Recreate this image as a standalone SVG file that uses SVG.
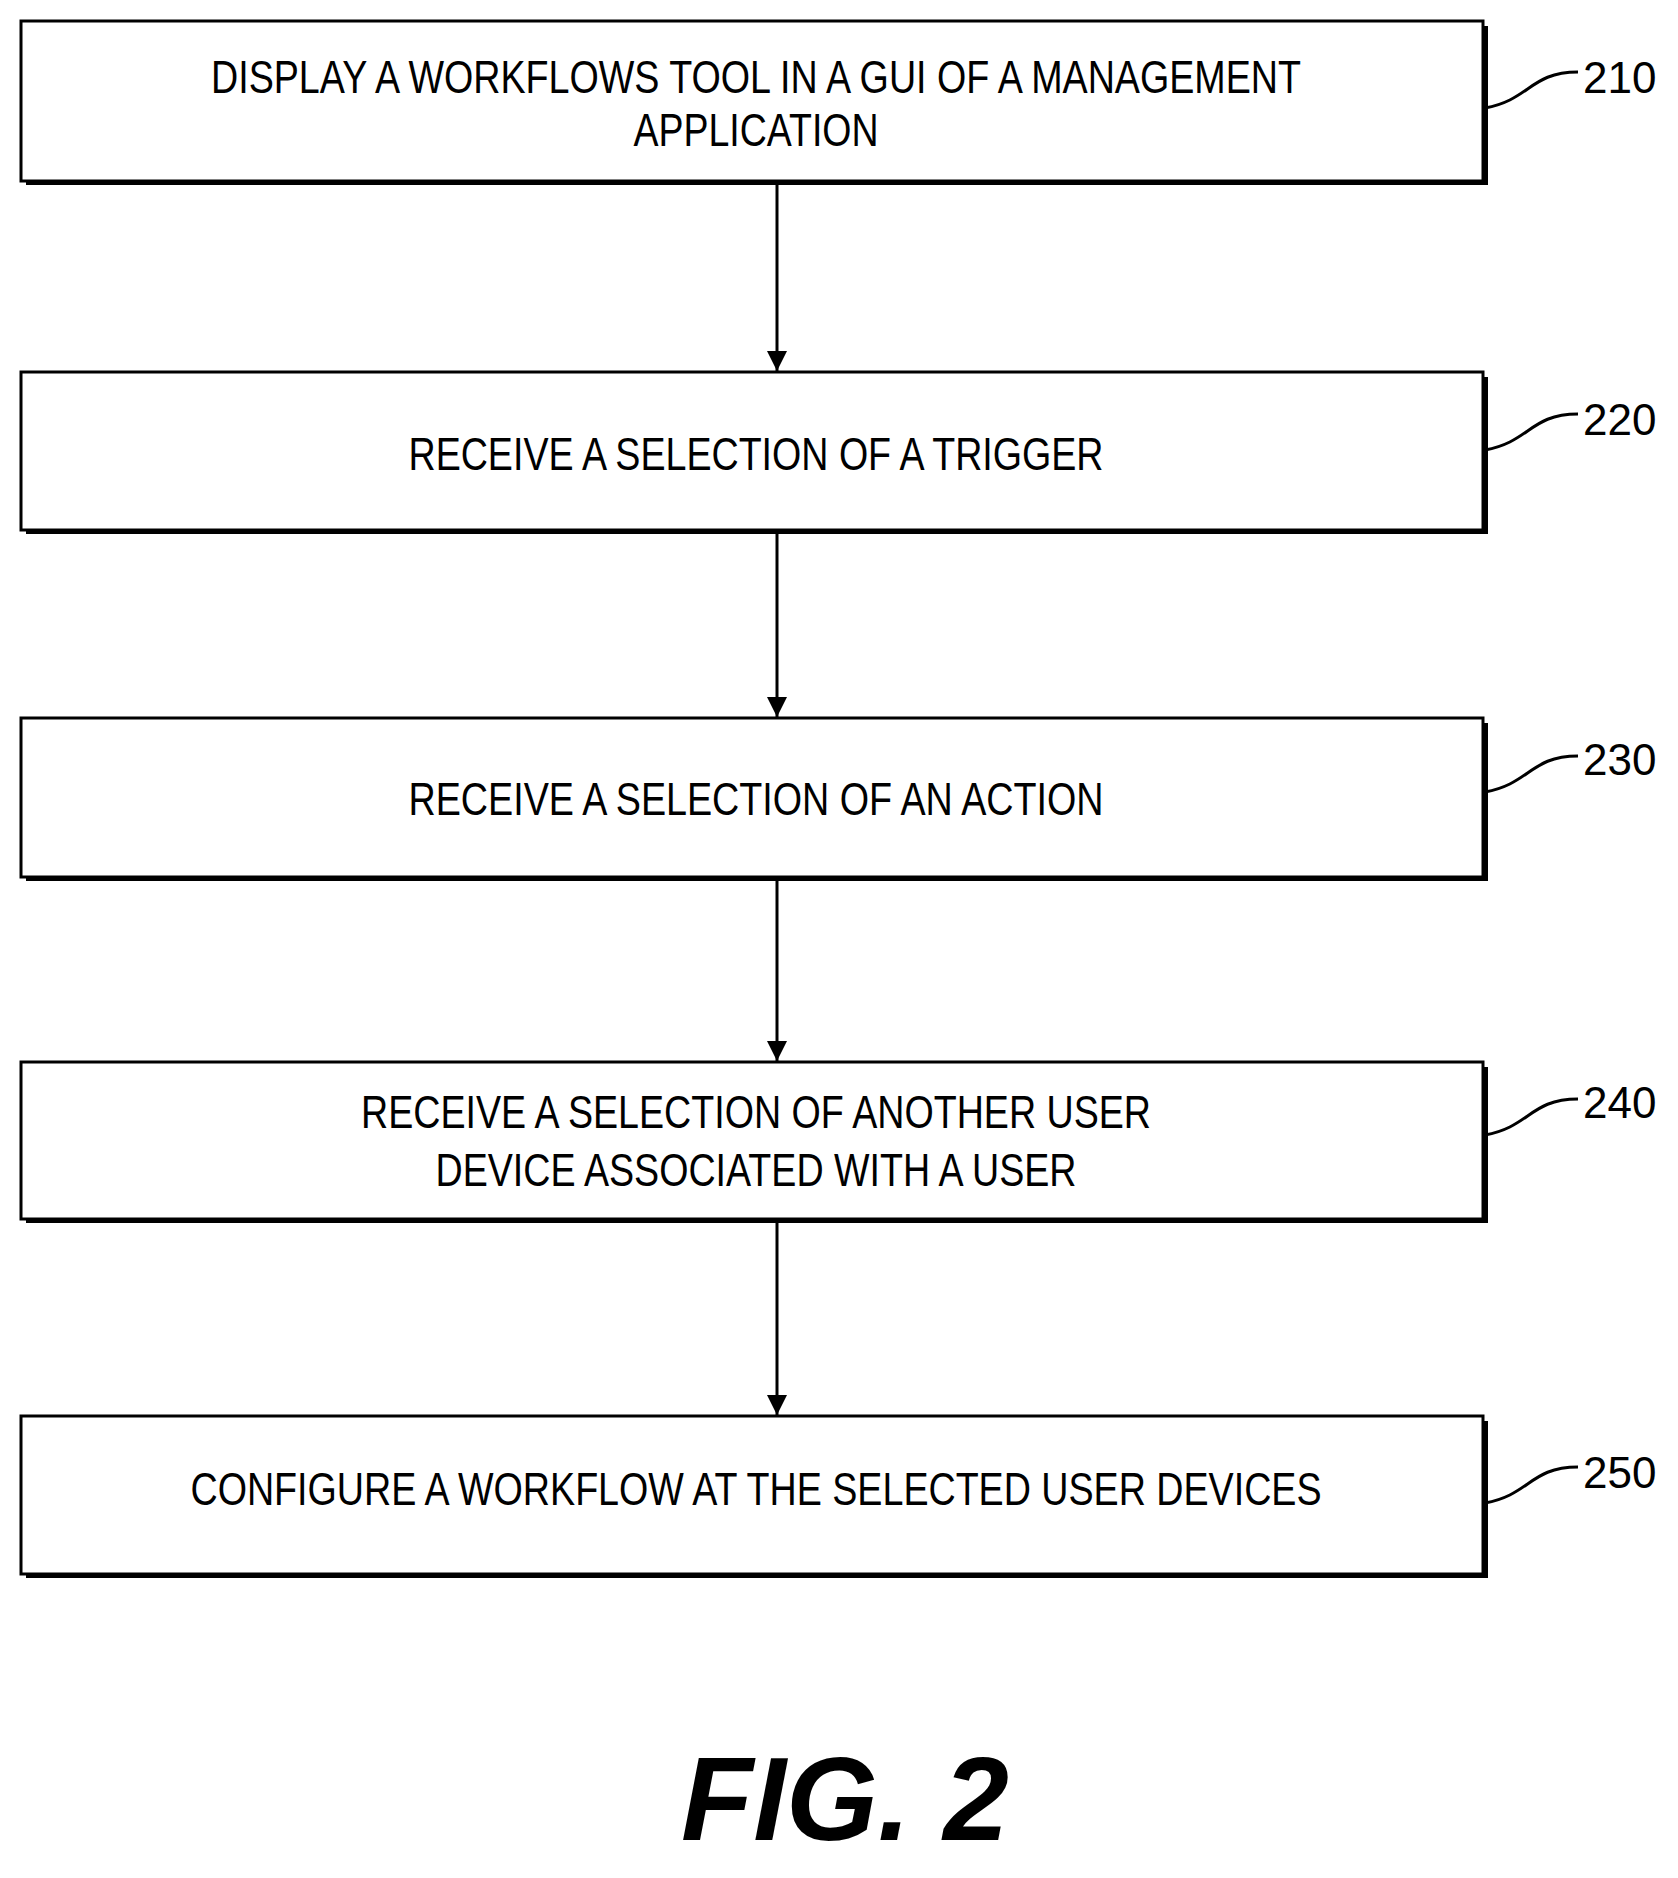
<svg xmlns="http://www.w3.org/2000/svg" width="1678" height="1878" viewBox="0 0 1678 1878">
<style>
.box{fill:#fff;stroke:#000;stroke-width:3}
.sh{fill:none;stroke:#000;stroke-width:4}
.t{font-family:"Liberation Sans",Arial,sans-serif;font-size:46px;text-anchor:middle;fill:#000}
.n{font-family:"Liberation Sans",Arial,sans-serif;font-size:44px;fill:#000}
.ld{fill:none;stroke:#000;stroke-width:3}
.c{stroke:#000;stroke-width:3;fill:none}
</style>
<defs><marker id="a" markerWidth="10" markerHeight="10" refX="9" refY="5" orient="auto" markerUnits="userSpaceOnUse" viewBox="0 0 10 10"><path d="M0,0 L10,5 L0,10 z" fill="#000"/></marker></defs>
<defs><marker id="ah" viewBox="0 0 20 20" refX="20" refY="10" markerWidth="20" markerHeight="20" orient="auto" markerUnits="userSpaceOnUse"><path d="M0,0 L20,10 L0,20 z" fill="#000"/></marker></defs>
<g id="n210"><path class="sh" d="M26,183 H1486 V26"/><rect class="box" x="21" y="21" width="1462" height="160"/>
<text class="t" x="756" y="93" textLength="1090" lengthAdjust="spacingAndGlyphs">DISPLAY A WORKFLOWS TOOL IN A GUI OF A MANAGEMENT</text>
<text class="t" x="756" y="146" textLength="245" lengthAdjust="spacingAndGlyphs">APPLICATION</text>
<path class="ld" d="M1485,108 C1530,100 1530,72 1578,72"/><text class="n" x="1583" y="93">210</text></g>
<g id="n220"><path class="sh" d="M26,532 H1486 V377"/><rect class="box" x="21" y="372" width="1462" height="158"/>
<text class="t" x="756" y="470" textLength="695" lengthAdjust="spacingAndGlyphs">RECEIVE A SELECTION OF A TRIGGER</text>
<path class="ld" d="M1485,450 C1530,442 1530,414 1578,414"/><text class="n" x="1583" y="435">220</text></g>
<g id="n230"><path class="sh" d="M26,879 H1486 V723"/><rect class="box" x="21" y="718" width="1462" height="159"/>
<text class="t" x="756" y="815" textLength="695" lengthAdjust="spacingAndGlyphs">RECEIVE A SELECTION OF AN ACTION</text>
<path class="ld" d="M1485,792 C1530,784 1530,756 1578,756"/><text class="n" x="1583" y="775">230</text></g>
<g id="n240"><path class="sh" d="M26,1221 H1486 V1067"/><rect class="box" x="21" y="1062" width="1462" height="157"/>
<text class="t" x="756" y="1128" textLength="790" lengthAdjust="spacingAndGlyphs">RECEIVE A SELECTION OF ANOTHER USER</text>
<text class="t" x="756" y="1186" textLength="641" lengthAdjust="spacingAndGlyphs">DEVICE ASSOCIATED WITH A USER</text>
<path class="ld" d="M1485,1135 C1530,1127 1530,1099 1578,1099"/><text class="n" x="1583" y="1118">240</text></g>
<g id="n250"><path class="sh" d="M26,1576 H1486 V1421"/><rect class="box" x="21" y="1416" width="1462" height="158"/>
<text class="t" x="756" y="1505" textLength="1131" lengthAdjust="spacingAndGlyphs">CONFIGURE A WORKFLOW AT THE SELECTED USER DEVICES</text>
<path class="ld" d="M1485,1503 C1530,1495 1530,1467 1578,1467"/><text class="n" x="1583" y="1488">250</text></g>
<g id="connectors">
<line class="c" x1="777" y1="183" x2="777" y2="371" marker-end="url(#ah)"/>
<line class="c" x1="777" y1="532" x2="777" y2="717" marker-end="url(#ah)"/>
<line class="c" x1="777" y1="879" x2="777" y2="1061" marker-end="url(#ah)"/>
<line class="c" x1="777" y1="1221" x2="777" y2="1415" marker-end="url(#ah)"/>
</g>
<text x="845" y="1840" font-family="Liberation Sans,Arial,sans-serif" font-size="118" font-weight="bold" font-style="italic" text-anchor="middle">FIG. 2</text>
</svg>
